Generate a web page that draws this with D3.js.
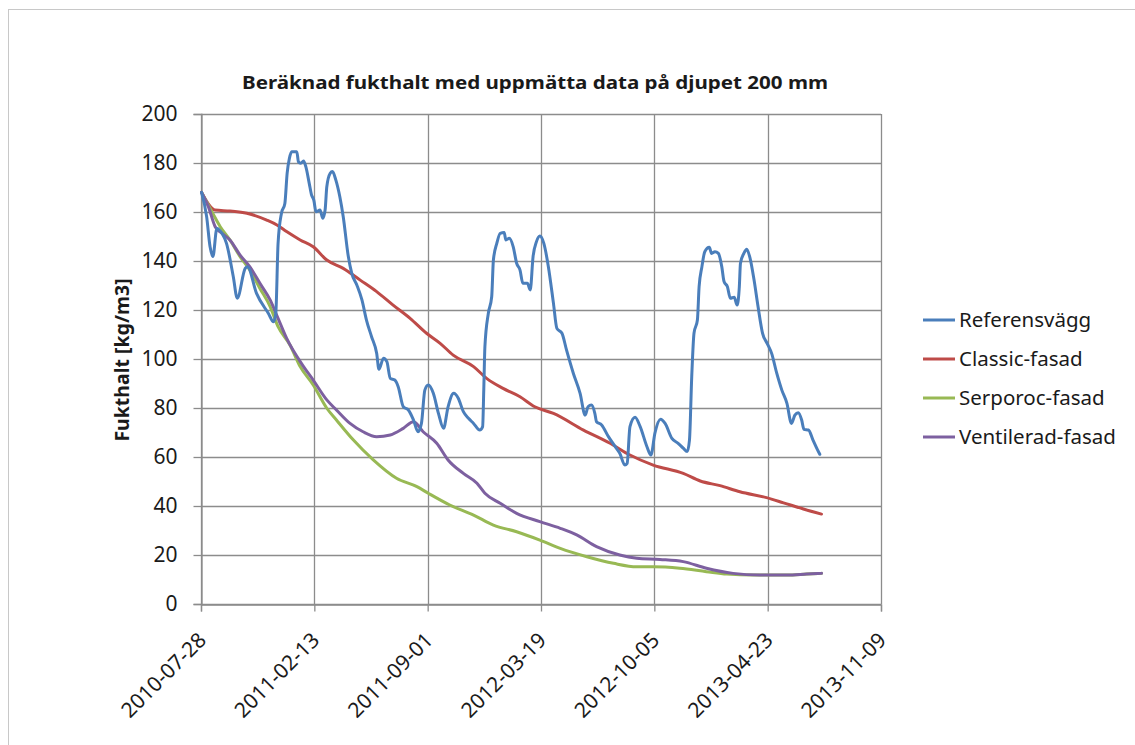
<!DOCTYPE html>
<html>
<head>
<meta charset="utf-8">
<script src="https://cdn.jsdelivr.net/npm/d3@7"></script>
<style>
  html, body { margin: 0; padding: 0; background: #fff; }
  svg { display: block; }
</style>
</head>
<body>
<svg id="chart" width="1135" height="745"></svg>
<script>
// ---------- data (days since 2010-07-28, value kg/m3) ----------
const startDate = "2010-07-28";
const seriesNames = ["Referensvägg", "Classic-fasad", "Serporoc-fasad", "Ventilerad-fasad"];
const seriesColors = ["#4A7EBB", "#BE4B48", "#98B954", "#7D60A0"];
const xTickLabels = ["2010-07-28","2011-02-13","2011-09-01","2012-03-19","2012-10-05","2013-04-23","2013-11-09"];
const yTickValues = [0,20,40,60,80,100,120,140,160,180,200];

const refDays = [1,10,16,21,28,37,45,57,64,78,82,98,119,128,132,136,142,148,152,156,160,169,172,176,181,185,191,195,199,203,210,215,219,222,228,232,238,245,251,260,266,275,284,292,301,310,314,322,328,334,342,348,357,366,375,383,389,395,401,410,419,428,436,446,454,463,472,481,492,497,499,501,507,513,516,522,528,535,538,544,551,557,563,568,576,581,586,592,598,605,613,622,628,637,645,657,669,678,683,689,695,698,707,719,731,739,748,752,757,766,775,787,794,801,811,819,831,842,851,858,862,866,870,876,879,884,889,897,901,907,913,919,923,929,934,941,946,950,952,958,963,969,976,983,991,999,1007,1016,1025,1034,1042,1048,1054,1060,1064,1072,1080,1088,1092];
const refValues = [168,158,145.8,141.8,153.3,151.3,147.2,133.6,124.8,137,137.7,126.8,118.6,115.2,118.7,147.2,159.5,163.5,175.8,181.9,184.6,184.6,180.5,179.9,180.8,178.5,171.7,167,164.9,160.1,160.8,157.4,160.8,170.3,175.8,176.5,173,166.2,158.1,141.8,135,130.2,124.1,115.9,109.1,102.3,95.8,100.3,98.9,92.1,91.4,88.7,80.5,79.2,75.1,70.3,73.7,87.3,89.4,86,77.8,71.7,80.5,86,84,78.5,75.8,73.7,71,72.4,87.3,105,118.6,125.4,140.4,147.2,151.3,151.6,148.6,149.3,145.8,139.1,136.3,130.9,130.9,128.2,141.8,147.9,150.2,147.2,137.7,122.7,112.5,110.5,103.7,94.2,86,77.1,80.5,81.2,77.8,74.4,73.1,68.3,64.2,61.5,56.7,57.4,72.4,76.2,72.4,64.2,60.8,69.7,75.4,73.7,67.6,65.6,63.6,62.2,66.9,92.8,110.5,115.9,129.5,137.7,143.8,145.6,143.1,143.8,143.1,137.7,131.6,129.5,124.8,125.2,122,129.5,139.1,143.1,144.8,141.1,132.2,121.4,110.5,106.4,102.3,94.2,87.3,81.9,73.7,77.1,78.1,75.1,71.3,71,66.9,62.9,61.1];

const classicDays = [1,25,51,81,116,134,151,175,198,222,251,281,310,339,369,398,422,445,481,504,533,563,589,622,675,722,757,798,851,881,916,951,998,1028,1063,1095];
const classicValues = [168,160.8,160.4,159.5,156.7,154.7,152,148.6,145.8,140.4,137,132.2,127.5,122,116.6,110.5,106.4,101.6,96.9,92.1,88,84.6,80.5,77.8,71,65.6,60.8,56.7,53.3,50.2,48.3,45.8,43.4,41.3,38.8,36.7];

const serporocDays = [1,16,34,51,69,86,104,122,136,157,175,198,222,239,269,304,345,381,401,439,481,516,557,598,634,681,728,769,798,845,892,928,975,1034,1069,1095];
const serporocValues = [168,161.5,154,148.6,141.8,136.3,128.8,121.4,113.2,105.7,96.9,89.4,79.9,75.1,66.9,58.8,51.3,47.9,45.2,40.4,36.3,32.2,29.5,26.1,22.7,19.3,16.6,15.2,15.2,14.6,13.2,12.2,11.8,11.8,12.2,12.5];

const ventDays = [1,13,25,37,51,69,86,104,122,136,151,181,198,222,239,263,286,310,334,357,375,392,416,436,463,487,501,528,557,598,634,663,698,739,769,810,851,892,939,986,1034,1069,1095];
const ventValues = [168,162.2,154,151.3,148.6,142.4,137.7,130.9,124.1,116.6,108.5,96.9,91.4,83.3,79.2,73.7,70.3,68.3,69,71.7,74.4,70.3,65.6,58.8,53.3,49.3,45.2,41.1,37,33.6,30.9,28.2,23.4,20,18.7,18.2,17.3,14.6,12.5,11.8,11.8,12.2,12.5];

const allDays = [refDays, classicDays, serporocDays, ventDays];
const allValues = [refValues, classicValues, serporocValues, ventValues];

// ---------- layout ----------
const svg = d3.select("#chart");
const plot = { left: 201, right: 881, top: 114, bottom: 604 };
const parse = d3.utcParse("%Y-%m-%d");
const t0 = parse(startDate);
const dayToDate = d => new Date(t0.getTime() + d * 86400000);

const x = d3.scaleUtc()
  .domain([parse(xTickLabels[0]), parse(xTickLabels[xTickLabels.length - 1])])
  .range([plot.left, plot.right]);
const y = d3.scaleLinear().domain([0, 200]).range([plot.bottom, plot.top]);

const gridColor = "#8c8c8c";
const textColor = "#1a1a1a";
const fontFam = "'Noto Sans', 'DejaVu Sans', sans-serif";

// outer chart border
svg.append("rect").attr("x", 8.5).attr("y", 9.5).attr("width", 1300).attr("height", 900)
  .attr("fill", "none").attr("stroke", "#c8c8c8").attr("stroke-width", 1);

// title
svg.append("text")
  .attr("x", 535).attr("y", 89)
  .attr("text-anchor", "middle")
  .attr("font-family", fontFam).attr("font-weight", "bold").attr("font-size", 18)
  .attr("textLength", 586).attr("lengthAdjust", "spacingAndGlyphs")
  .attr("fill", textColor)
  .text("Beräknad fukthalt med uppmätta data på djupet 200 mm");

// gridlines
const grid = svg.append("g");
grid.selectAll(".hg").data(yTickValues).join("line")
  .attr("x1", plot.left).attr("x2", plot.right)
  .attr("y1", d => Math.round(y(d)) + 0.5).attr("y2", d => Math.round(y(d)) + 0.5)
  .attr("stroke", gridColor).attr("stroke-width", 1.3);
grid.selectAll(".vg").data(xTickLabels).join("line")
  .attr("x1", d => Math.round(x(parse(d))) + 0.5).attr("x2", d => Math.round(x(parse(d))) + 0.5)
  .attr("y1", plot.top).attr("y2", plot.bottom)
  .attr("stroke", gridColor).attr("stroke-width", 1.3);

// y axis
const yAxis = d3.axisLeft(y).tickValues(yTickValues).tickSize(8).tickPadding(8);
const gy = svg.append("g").attr("transform", `translate(${plot.left + 0.5},0)`).call(yAxis);
gy.select(".domain").attr("stroke", gridColor).attr("stroke-width", 1.3);
gy.selectAll(".tick line").attr("stroke", gridColor).attr("stroke-width", 1.3);
gy.selectAll(".tick text").attr("font-family", fontFam).attr("font-size", 21).attr("fill", textColor)
  .attr("x", -24);

// x axis
const xAxis = d3.axisBottom(x).tickValues(xTickLabels.map(parse)).tickFormat(d3.utcFormat("%Y-%m-%d")).tickSize(7).tickPadding(4);
const gx = svg.append("g").attr("transform", `translate(0,${plot.bottom + 0.5})`).call(xAxis);
gx.select(".domain").attr("stroke", gridColor).attr("stroke-width", 1.3);
gx.selectAll(".tick line").attr("stroke", gridColor).attr("stroke-width", 1.3);
gx.selectAll(".tick text")
  .attr("font-family", fontFam).attr("font-size", 21).attr("fill", textColor)
  .attr("text-anchor", "end").attr("dy", "0")
  .attr("transform", "translate(6,37) rotate(-45)")
  .attr("x", 0).attr("y", 0);

// y axis title
svg.append("text")
  .attr("transform", "translate(129,360) rotate(-90)")
  .attr("text-anchor", "middle")
  .attr("font-family", fontFam).attr("font-weight", "bold").attr("font-size", 19.5)
  .attr("fill", textColor)
  .text("Fukthalt [kg/m3]");

// lines
const line = d3.line()
  .x(d => x(dayToDate(d[0])))
  .y(d => y(d[1]))
  .curve(d3.curveMonotoneX);

const order = [1, 2, 3, 0];
order.forEach(i => {
  const pts = allDays[i].map((d, k) => [d, allValues[i][k]]);
  svg.append("path").datum(pts)
    .attr("d", line)
    .attr("fill", "none")
    .attr("stroke", seriesColors[i])
    .attr("stroke-width", 3)
    .attr("stroke-linejoin", "round").attr("stroke-linecap", "round");
});

// legend
const legend = svg.append("g");
seriesNames.forEach((name, i) => {
  const ly = 320 + i * 39;
  legend.append("line")
    .attr("x1", 923).attr("x2", 955).attr("y1", ly).attr("y2", ly)
    .attr("stroke", seriesColors[i]).attr("stroke-width", 3);
  legend.append("text")
    .attr("x", 959).attr("y", ly).attr("dy", "0.35em")
    .attr("font-family", fontFam).attr("font-size", 20.5).attr("fill", textColor)
    .text(name);
});
</script>
</body>
</html>
